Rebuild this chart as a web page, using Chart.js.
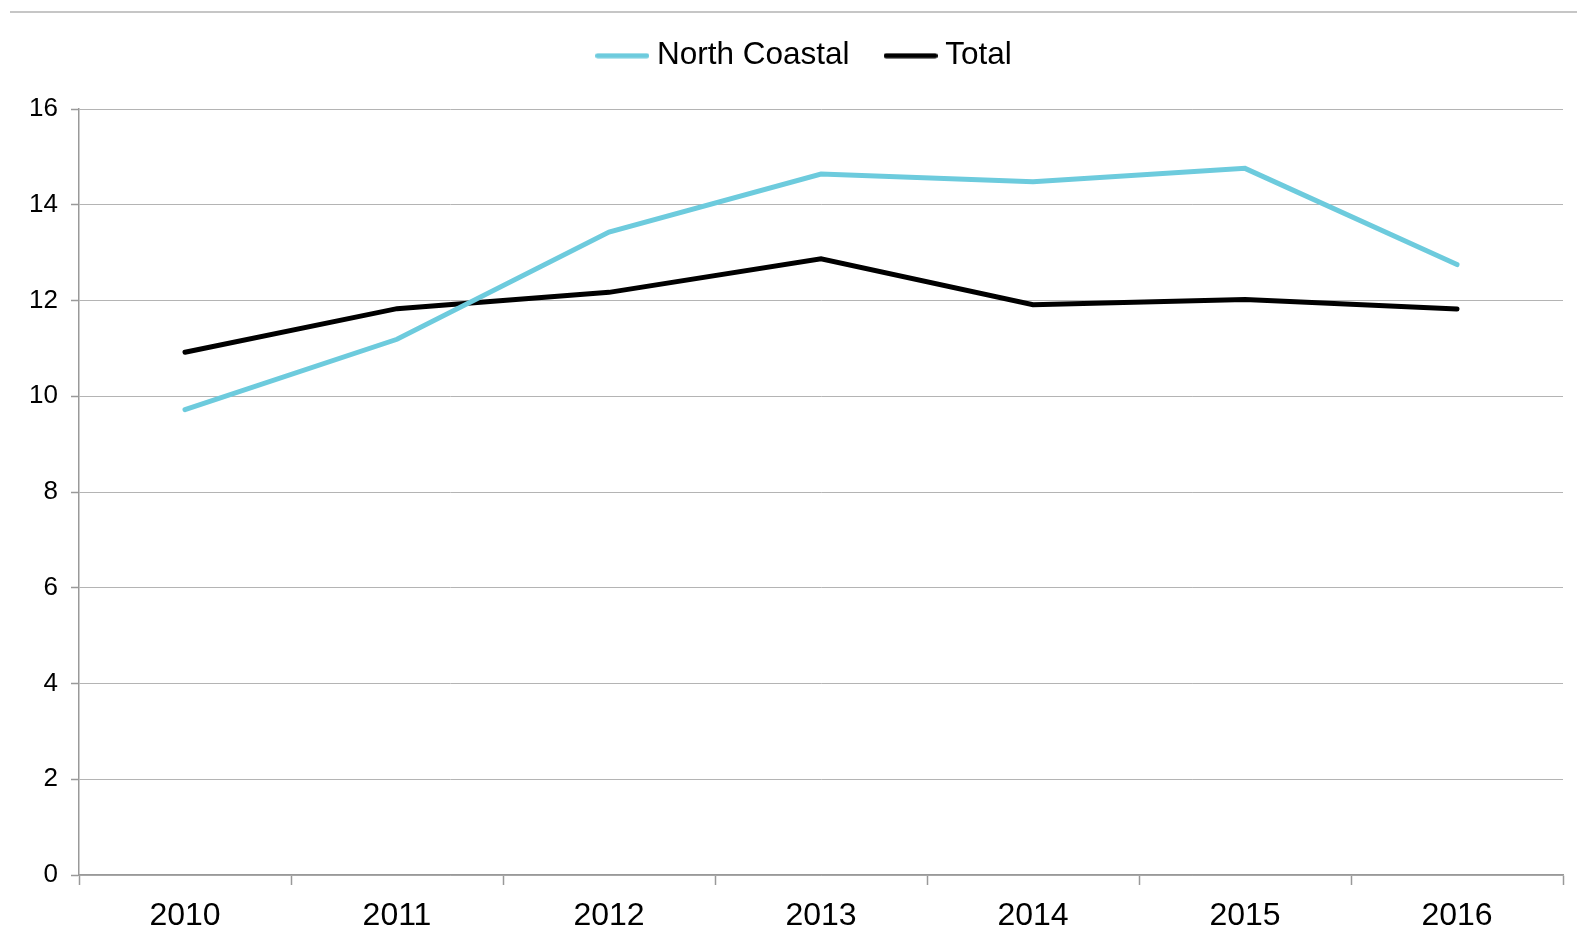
<!DOCTYPE html>
<html>
<head>
<meta charset="utf-8">
<script src="https://cdn.jsdelivr.net/npm/chart.js@4"></script>
<style>
  html, body { margin: 0; padding: 0; background: #fff; }
  #wrap { position: relative; width: 1577px; height: 943px; }
  #topline { position: absolute; left: 10px; right: 0; top: 11px; height: 2px; background: #c6c6c6; }
  canvas { position: absolute; left: 0; top: 0; }
</style>
</head>
<body>
<div id="wrap">
  <canvas id="c" width="1577" height="943"></canvas>
  <div id="topline"></div>
</div>
<script>
const categories = ['2010', '2011', '2012', '2013', '2014', '2015', '2016'];
const northCoastal = [9.72, 11.19, 13.43, 14.64, 14.48, 14.76, 12.75];
const total = [10.92, 11.83, 12.17, 12.87, 11.91, 12.02, 11.82];
const yTicks = [0, 2, 4, 6, 8, 10, 12, 14, 16];

const FONT = "'Liberation Sans', Arial, sans-serif";
const TARGET_TOP = 109;
const LAYOUT_TOP = 16;
const LEGEND_SHIFT_X = 26;
const LEGEND_SHIFT_Y = -18;

function legendSwatch(color) {
  const cv = document.createElement('canvas');
  cv.width = 54; cv.height = 6;
  const g = cv.getContext('2d');
  g.strokeStyle = color;
  g.lineWidth = 5;
  g.lineCap = 'round';
  g.beginPath();
  g.moveTo(2.5, 3);
  g.lineTo(51.5, 3);
  g.stroke();
  return cv;
}

const legendSpacer = {
  id: 'legendSpacer',
  afterInit(chart) {
    const lg = chart.legend;
    if (!lg) return;
    const orig = lg.fit;
    lg.fit = function () {
      orig.call(this);
      this.height = TARGET_TOP - LAYOUT_TOP;
      this.bottom = this.top + this.height;
    };
  },
  afterLayout(chart) {
    const lg = chart.legend;
    if (!lg) return;
    lg.left += LEGEND_SHIFT_X;
    lg.right += LEGEND_SHIFT_X;
    lg.top += LEGEND_SHIFT_Y;
    lg.bottom += LEGEND_SHIFT_Y;
  }
};

new Chart(document.getElementById('c'), {
  type: 'line',
  data: {
    labels: categories,
    datasets: [
      {
        label: 'North Coastal',
        data: northCoastal,
        borderColor: '#6dcbdd',
        backgroundColor: '#6dcbdd',
        borderWidth: 5,
        borderCapStyle: 'round',
        pointStyle: legendSwatch('#6dcbdd'),
        pointRadius: 0,
        tension: 0,
        fill: false
      },
      {
        label: 'Total',
        data: total,
        borderColor: '#000000',
        backgroundColor: '#000000',
        borderWidth: 5,
        borderCapStyle: 'round',
        pointStyle: legendSwatch('#000000'),
        pointRadius: 0,
        tension: 0,
        fill: false
      }
    ]
  },
  plugins: [legendSpacer],
  options: {
    responsive: false,
    animation: false,
    devicePixelRatio: 1,
    layout: { padding: { left: 0, right: 14, top: LAYOUT_TOP, bottom: 0 } },
    plugins: {
      tooltip: { enabled: false },
      legend: {
        position: 'top',
        labels: {
          usePointStyle: true,
          pointStyleWidth: 38,
          padding: 42,
          color: '#000',
          font: { family: FONT, size: 31.5 }
        }
      }
    },
    scales: {
      x: {
        offset: true,
        afterFit: (scale) => { scale.height = 68; },
        grid: {
          offset: true,
          drawOnChartArea: false,
          drawTicks: true,
          tickLength: 10,
          tickColor: '#999',
          tickWidth: 1.5
        },
        border: { color: '#999', width: 1.5 },
        ticks: {
          color: '#000',
          padding: 12,
          font: { family: FONT, size: 32 },
          maxRotation: 0
        }
      },
      y: {
        min: 0,
        max: 16,
        afterBuildTicks: (scale) => { scale.ticks = yTicks.map(v => ({ value: v })); },
        afterFit: (scale) => { scale.width = 79; },
        grid: {
          color: '#b4b4b4',
          lineWidth: 1,
          borderDash: [1, 1],
          drawTicks: true,
          tickLength: 8,
          tickColor: '#999',
          tickWidth: 1.5,
          tickBorderDash: []
        },
        border: { color: '#999', width: 1.5 },
        ticks: {
          color: '#000',
          padding: 13,
          font: { family: FONT, size: 26 }
        }
      }
    }
  }
});
</script>
</body>
</html>
